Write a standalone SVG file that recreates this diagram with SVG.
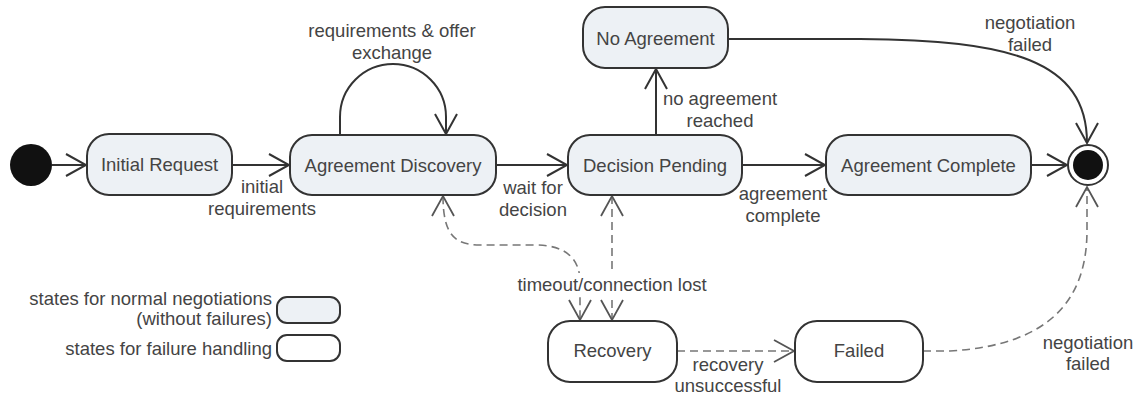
<svg xmlns="http://www.w3.org/2000/svg" width="1141" height="397" viewBox="0 0 1141 397">
  <style>
    .state { fill: #edf1f5; stroke: #333; stroke-width: 2; }
    .fail { fill: #ffffff; stroke: #333; stroke-width: 2; }
    .lbl { font-family: "Liberation Sans", Arial, sans-serif; font-size: 18.5px; fill: #444; }
    .mid { text-anchor: middle; }
    .end { text-anchor: end; }
    .edge { fill: none; stroke: #333; stroke-width: 2; }
    .dash { fill: none; stroke: #777; stroke-width: 1.6; stroke-dasharray: 8 5; }
  </style>
  <defs>
    <marker id="open" markerUnits="userSpaceOnUse" viewBox="-23 -13 25 26" markerWidth="25" markerHeight="26" refX="0" refY="0" orient="auto-start-reverse">
      <path d="M-20,-11 L0,0 L-20,11" fill="none" stroke="#333" stroke-width="2" stroke-dasharray="none"/>
    </marker>
    <marker id="openL" markerUnits="userSpaceOnUse" viewBox="-23 -13 25 26" markerWidth="25" markerHeight="26" refX="0" refY="0" orient="auto-start-reverse">
      <path d="M-20,-11 L0,0 L-20,11" fill="none" stroke="#555" stroke-width="1.8" stroke-dasharray="none"/>
    </marker>
  </defs>

  <!-- transitions -->
  <g id="connectors">
    <path class="edge" d="M52,165 L86,165" marker-end="url(#open)"/>
    <path class="edge" d="M232,165 L289,165" marker-end="url(#open)"/>
    <path class="edge" d="M496,165 L567,165" marker-end="url(#open)"/>
    <path class="edge" d="M742,165 L825,165" marker-end="url(#open)"/>
    <path class="edge" d="M1031,165 L1067,165" marker-end="url(#open)"/>
    <path class="edge" d="M656,135 L656,69" marker-end="url(#open)"/>
    <path class="edge" d="M340,135 L340,117 A53,53 0 1 1 446,117 L446,134" marker-end="url(#open)"/>
    <path class="edge" d="M728,39 L860,39 C1010,40 1087,60 1087,143" marker-end="url(#open)"/>

    <path class="dash" d="M443,196 C443,235 455,245 480,245 L535,245 C565,245 580,258 580,282 L580,320" marker-start="url(#openL)" marker-end="url(#openL)"/>
    <path class="dash" d="M612,196 L612,320" marker-start="url(#openL)" marker-end="url(#openL)"/>
    <path class="dash" d="M677,351 L794,351" marker-end="url(#openL)"/>
    <path class="dash" d="M923,351 L950,351 C1050,345 1087,300 1087,230 L1087,187" marker-end="url(#openL)"/>
    <rect x="514" y="273" width="196" height="24" fill="#ffffff"/>
  </g>

  <!-- pseudo states -->
  <g id="initial">
    <circle cx="31" cy="165" r="21" fill="#111"/>
  </g>
  <g id="final">
    <circle cx="1088" cy="165" r="20" fill="#fff" stroke="#333" stroke-width="2"/>
    <circle cx="1088" cy="165" r="15" fill="#111"/>
  </g>

  <!-- states -->
  <g id="initial-request">
    <rect class="state" x="87" y="134" width="145" height="61" rx="22"/>
    <text class="lbl mid" x="159.5" y="171">Initial Request</text>
  </g>
  <g id="agreement-discovery">
    <rect class="state" x="290" y="135" width="206" height="60" rx="22"/>
    <text class="lbl mid" x="393" y="172">Agreement Discovery</text>
  </g>
  <g id="decision-pending">
    <rect class="state" x="568" y="135" width="174" height="60" rx="22"/>
    <text class="lbl mid" x="655" y="172">Decision Pending</text>
  </g>
  <g id="no-agreement">
    <rect class="state" x="583" y="7" width="145" height="61" rx="22"/>
    <text class="lbl mid" x="655.5" y="45">No Agreement</text>
  </g>
  <g id="agreement-complete">
    <rect class="state" x="826" y="135" width="205" height="60" rx="22"/>
    <text class="lbl mid" x="928.5" y="172">Agreement Complete</text>
  </g>
  <g id="recovery">
    <rect class="fail" x="548" y="321" width="129" height="61" rx="22"/>
    <text class="lbl mid" x="612.5" y="357">Recovery</text>
  </g>
  <g id="failed">
    <rect class="fail" x="795" y="321" width="128" height="61" rx="22"/>
    <text class="lbl mid" x="859" y="357">Failed</text>
  </g>

  <!-- transition labels -->
  <g id="labels">
    <text class="lbl mid" x="262" y="193">initial</text>
    <text class="lbl mid" x="262" y="215">requirements</text>
    <text class="lbl mid" x="392" y="37">requirements &amp; offer</text>
    <text class="lbl mid" x="392" y="59">exchange</text>
    <text class="lbl mid" x="533" y="194">wait for</text>
    <text class="lbl mid" x="533" y="216">decision</text>
    <text class="lbl mid" x="720" y="105">no agreement</text>
    <text class="lbl mid" x="720" y="127">reached</text>
    <text class="lbl mid" x="783" y="200">agreement</text>
    <text class="lbl mid" x="783" y="222">complete</text>
    <text class="lbl mid" x="1030" y="29">negotiation</text>
    <text class="lbl mid" x="1030" y="51">failed</text>
    <text class="lbl mid" x="612" y="291">timeout/connection lost</text>
    <text class="lbl mid" x="728" y="371">recovery</text>
    <text class="lbl mid" x="728" y="392">unsuccessful</text>
    <text class="lbl mid" x="1088" y="349">negotiation</text>
    <text class="lbl mid" x="1088" y="370">failed</text>
  </g>

  <!-- legend -->
  <g id="legend">
    <text class="lbl end" x="272" y="305">states for normal negotiations</text>
    <text class="lbl end" x="272" y="325">(without failures)</text>
    <rect class="state" x="277" y="297" width="63" height="26" rx="10"/>
    <text class="lbl end" x="272" y="355">states for failure handling</text>
    <rect class="fail" x="277" y="335" width="63" height="26" rx="10"/>
  </g>
</svg>
